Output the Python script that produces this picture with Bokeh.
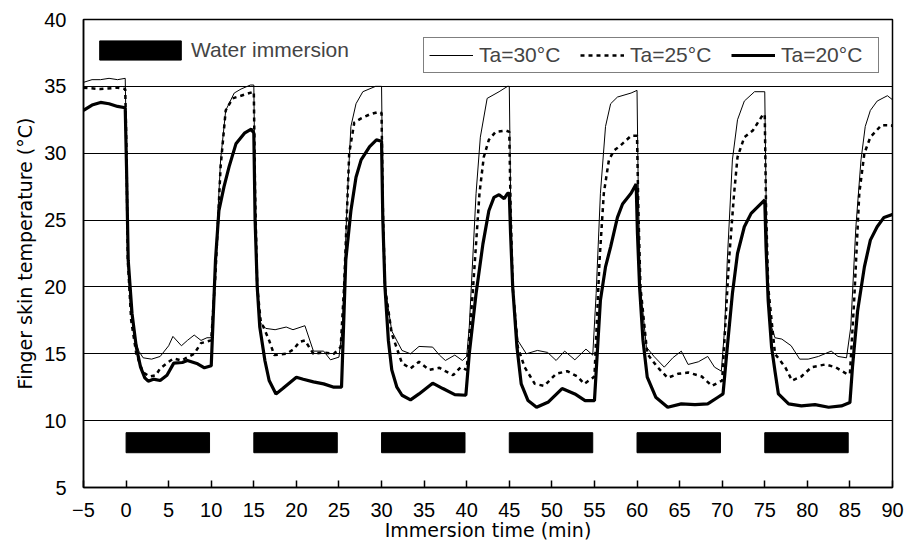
from bokeh.plotting import figure
from bokeh.models import Legend, LegendItem, FixedTicker
from bokeh.embed import file_html
from bokeh.resources import INLINE

# ---------------- data ----------------
t30 = [-5, -4, -3, -2, -1, -0.1, 0.05, 0.2, 0.5, 1.0, 1.5, 2.0, 3.0, 4.0, 5.0, 5.5, 6.5, 7.2, 8.0, 8.8, 9.5, 10.0,
       10.5, 11.1, 11.7, 12.7, 13.5, 14.6, 15.0,
       15.15, 15.4, 15.8, 16.4, 17.5, 18.8, 19.6, 21.0, 22.0, 23.2, 24.0, 25.0,
       25.4, 26.0, 26.4, 27.0, 27.8, 29.3, 30.0,
       30.15, 30.4, 31.2, 32.4, 33.4, 34.4, 36.0, 36.8, 37.5, 38.6, 39.5, 40.0,
       40.3, 41.1, 41.6, 42.4, 43.8, 44.8, 45.0,
       45.15, 45.4, 46.0, 47.0, 48.3, 49.5, 50.5, 51.5, 52.7, 54.0, 54.8,
       55.2, 55.7, 56.3, 56.9, 57.7, 59.3, 60.0,
       60.15, 60.4, 61.1, 62.0, 63.2, 64.2, 65.2, 66.0, 67.2, 68.3, 69.1, 69.9,
       70.3, 70.6, 71.2, 71.8, 72.6, 73.8, 74.8, 75.0,
       75.15, 75.4, 75.8, 76.2, 77.0, 78.1, 79.1, 80.1, 81.3, 82.8, 83.6, 84.6,
       85.1, 85.7, 86.3, 86.8, 87.4, 88.2, 89.4, 90.0]
v30 = [35.3, 35.5, 35.5, 35.6, 35.5, 35.6, 30.0, 22.0, 18.5, 16.2, 15.2, 14.7, 14.6, 14.8, 15.6, 16.3, 15.6, 16.0, 16.4, 16.0, 16.2, 16.2,
       22.0, 29.5, 33.2, 34.5, 34.8, 35.1, 35.1,
       27.0, 20.0, 17.3, 16.9, 16.8, 17.0, 16.8, 17.1, 15.2, 15.2, 14.55, 14.75,
       17.0, 27.0, 32.0, 33.7, 34.6, 35.0, 35.0,
       27.0, 20.0, 16.7, 15.25, 15.0, 15.55, 15.5, 14.9, 14.5, 14.9, 14.5, 14.8,
       17.0, 27.0, 31.2, 34.1, 34.6, 35.0, 35.0,
       27.0, 20.0, 16.0, 15.0, 15.25, 15.1, 14.5, 15.2, 14.55, 15.35, 14.9,
       19.5, 27.0, 32.0, 33.7, 34.2, 34.5, 34.7,
       27.0, 20.0, 15.5, 14.8, 14.0, 14.7, 15.2, 14.2, 14.4, 14.8, 14.0, 13.7,
       17.0, 22.0, 29.5, 32.5, 33.9, 34.6, 34.6, 34.6,
       27.0, 20.0, 17.0, 16.2, 16.1, 15.6, 14.6, 14.6, 14.8, 15.2, 14.8, 14.7,
       17.0, 24.5, 29.5, 32.0, 33.2, 33.9, 34.3, 34.0]

t25 = [-5, -3, -1, -0.1, 0.05, 0.2, 0.6, 1.2, 2.0, 2.8, 3.5, 4.0, 5.0, 5.6, 6.5, 8.0, 8.8, 10.0,
       10.5, 11.1, 11.7, 12.5, 13.5, 15.0,
       15.15, 15.4, 15.8, 16.8, 17.4, 18.8, 19.6, 20.4, 21.0, 22.0, 23.2, 24.4, 25.2,
       25.6, 26.2, 26.8, 27.6, 28.6, 29.7, 30.0,
       30.15, 30.4, 31.2, 32.4, 33.4, 34.4, 35.6, 36.8, 37.5, 38.4, 39.3, 40.0,
       40.7, 41.5, 42.0, 42.6, 43.4, 44.6, 45.0,
       45.15, 45.4, 46.0, 46.8, 48.0, 49.1, 50.5, 51.8, 53.0, 53.8, 54.8, 55.0,
       55.6, 56.1, 56.7, 57.3, 58.1, 59.3, 60.0,
       60.15, 60.4, 61.2, 62.4, 63.6, 64.8, 66.0, 67.6, 68.8, 69.7, 70.0,
       70.8, 71.4, 71.8, 72.6, 73.6, 74.8, 75.0,
       75.15, 75.4, 76.2, 77.4, 78.2, 79.3, 80.5, 82.1, 83.3, 84.6, 85.0,
       85.5, 86.1, 86.7, 87.4, 88.7, 89.9, 90.0]
v25 = [34.9, 34.8, 34.9, 34.8, 30.0, 22.0, 17.5, 15.0, 13.6, 13.3, 13.4, 13.9, 14.4, 14.65, 14.5, 15.0, 15.8, 16.0,
       21.0, 29.0, 33.2, 34.1, 34.3, 34.6,
       27.0, 20.0, 17.5, 16.0, 14.9, 15.0, 15.3, 15.9, 16.0, 15.0, 15.1, 15.0, 15.5,
       20.0, 30.0, 32.3, 32.6, 32.9, 33.1, 33.0,
       26.0, 20.0, 16.5, 14.3, 13.9, 14.4, 13.8, 13.95, 13.7, 13.4, 14.0, 13.8,
       19.5, 27.0, 29.7, 31.0, 31.6, 31.7, 31.6,
       26.0, 20.0, 15.5, 14.0, 12.75, 12.6, 13.5, 13.7, 13.3, 12.75, 13.2, 13.3,
       22.0, 27.0, 29.5, 30.2, 30.6, 31.3, 31.3,
       26.0, 20.0, 15.0, 14.0, 13.2, 13.5, 13.6, 13.3, 12.6, 12.9, 13.0,
       22.0, 27.0, 29.7, 31.2, 31.7, 32.9, 32.9,
       26.0, 20.0, 15.0, 14.0, 13.0, 13.3, 14.0, 14.2, 14.0, 13.5, 13.5,
       19.0, 27.0, 30.0, 31.2, 32.1, 32.1, 32.0]

t20 = [-5, -4, -3, -2, -1, -0.1, 0.05, 0.25, 0.7, 1.2, 1.7, 2.2, 2.6, 3.2, 4.0, 4.8, 5.6, 6.6, 7.2, 8.4, 9.2, 10.0,
       10.5, 10.9, 11.5, 12.1, 12.9, 13.9, 14.7, 15.0,
       15.15, 15.4, 15.7, 16.3, 16.8, 17.6, 18.4, 20.0, 20.8, 22.0, 23.2, 24.4, 25.3,
       25.8, 26.4, 27.0, 27.6, 28.6, 29.4, 30.0,
       30.15, 30.4, 30.8, 31.2, 31.8, 32.4, 33.4, 34.4, 36.0, 37.2, 38.6, 39.9,
       40.3, 41.1, 41.9, 42.6, 43.2, 43.8, 44.4, 44.8, 45.0,
       45.15, 45.4, 45.9, 46.4, 47.2, 48.2, 49.6, 51.2, 52.7, 53.9, 55.0,
       55.4, 55.7, 56.3, 56.9, 57.7, 58.3, 59.3, 59.9,
       60.05, 60.3, 60.7, 61.2, 62.2, 63.6, 65.2, 66.8, 68.3, 69.5, 70.1,
       70.6, 71.2, 71.8, 72.6, 73.4, 74.2, 75.0,
       75.15, 75.4, 75.8, 76.2, 76.6, 77.8, 79.3, 80.9, 82.5, 84.0, 85.0,
       85.3, 85.9, 86.7, 87.4, 88.2, 89.0, 89.9, 90.0]
v20 = [33.2, 33.6, 33.8, 33.7, 33.5, 33.4, 29.0, 22.0, 18.0, 15.5, 14.0, 13.2, 12.95, 13.1, 13.0, 13.4, 14.3, 14.35, 14.5, 14.25, 13.95, 14.1,
       22.0, 25.7, 27.5, 29.0, 30.7, 31.5, 31.8, 31.5,
       25.0, 20.0, 17.0, 14.5, 13.0, 12.0, 12.4, 13.25, 13.1, 12.9, 12.75, 12.5, 12.5,
       22.0, 25.7, 28.2, 29.5, 30.5, 31.0, 30.9,
       25.0, 20.0, 16.0, 13.8, 12.5, 11.9, 11.55, 12.0, 12.8, 12.4, 11.95, 11.9,
       15.0, 19.5, 23.2, 25.7, 26.7, 26.9, 26.6, 27.0, 27.0,
       24.0, 20.0, 15.5, 12.75, 11.5, 11.0, 11.4, 12.4, 12.0, 11.5, 11.5,
       15.8, 19.0, 21.5, 23.0, 25.2, 26.2, 27.0, 27.7,
       24.0, 20.0, 16.0, 13.25, 11.75, 11.0, 11.25, 11.2, 11.25, 11.75, 12.0,
       15.5, 19.5, 22.5, 24.5, 25.5, 26.0, 26.5,
       23.0, 19.0, 15.5, 13.7, 12.0, 11.25, 11.1, 11.2, 11.0, 11.1, 11.35,
       14.0, 18.2, 21.5, 23.5, 24.5, 25.2, 25.4, 25.4]

imm_start = [0, 15, 30, 45, 60, 75]
imm_end = [9.8, 24.8, 39.8, 54.8, 69.8, 84.8]
imm_bottom = [7.6] * 6
imm_top = [9.1] * 6

x_ticks = list(range(-5, 91, 5))
y_ticks = list(range(5, 41, 5))
grid_levels = [10, 15, 20, 25, 30, 35]

TICK_FONT = "Liberation Sans"
LABEL_FONT = "DejaVu Sans"

p = figure(width=905, height=544, x_range=(-5, 90), y_range=(5, 40),
           output_backend="svg", toolbar_location=None,
           min_border_left=83, min_border_right=13, min_border_top=19, min_border_bottom=57)

p.background_fill_color = "white"
p.border_fill_color = "white"
p.outline_line_color = "black"
p.outline_line_width = 1.5

# grid
p.xgrid.visible = False
p.ygrid.ticker = FixedTicker(ticks=grid_levels)
p.ygrid.grid_line_color = "black"
p.ygrid.grid_line_width = 1
p.ygrid.grid_line_alpha = 1

# axes
p.xaxis.ticker = FixedTicker(ticks=x_ticks)
p.yaxis.ticker = FixedTicker(ticks=y_ticks)
p.xaxis.major_label_overrides = {t: ("\u2212" + str(-t) if t < 0 else str(t)) for t in x_ticks}
for ax in (p.xaxis[0], p.yaxis[0]):
    ax.axis_line_color = "black"
    ax.axis_line_width = 1.5
    ax.minor_tick_line_color = None
    ax.major_label_text_font = TICK_FONT
    ax.major_label_text_font_size = "20px"
    ax.major_label_text_color = "black"
    ax.axis_label_text_font = LABEL_FONT
    ax.axis_label_text_font_size = "19px"
    ax.axis_label_text_font_style = "normal"
    ax.axis_label_text_color = "black"

p.xaxis.major_tick_in = 7
p.xaxis.major_tick_out = 0
p.xaxis.major_tick_line_color = "black"
p.xaxis.major_tick_line_width = 1.5
p.xaxis.major_label_standoff = 15
p.xaxis.axis_label = "Immersion time (min)"
p.xaxis.axis_label_standoff = -1

p.yaxis.major_tick_in = 0
p.yaxis.major_tick_out = 0
p.yaxis.major_label_standoff = 17
p.yaxis.axis_label = "Finger skin temperature (°C)"
p.yaxis.axis_label_standoff = 5

# immersion bars
r_imm = p.quad(left=imm_start, right=imm_end, bottom=imm_bottom, top=imm_top,
               fill_color="black", line_color="black")

# curves
r30 = p.line(t30, v30, line_color="black", line_width=1)
r25 = p.line(t25, v25, line_color="black", line_width=2.5, line_dash="4 4")
r20 = p.line(t20, v20, line_color="black", line_width=3.2)

leg = Legend(items=[LegendItem(label="Ta=30°C", renderers=[r30]),
                    LegendItem(label="Ta=25°C", renderers=[r25]),
                    LegendItem(label="Ta=20°C", renderers=[r20])],
             orientation="horizontal", location=(340, 414),
             glyph_width=44, glyph_height=20, label_standoff=6, label_width=92,
             label_height=20, spacing=9, padding=5, margin=0,
             border_line_color="black", border_line_width=1.2,
             background_fill_color="white", background_fill_alpha=1,
             label_text_font=TICK_FONT, label_text_font_size="21px")
p.add_layout(leg, "center")

leg2 = Legend(items=[LegendItem(label="Water immersion", renderers=[r_imm])],
              location=(6, 425), glyph_width=102, glyph_height=24, label_standoff=0,
              padding=0, margin=0, border_line_color=None, background_fill_alpha=0,
              label_text_font=TICK_FONT, label_text_font_size="21px")
p.add_layout(leg2, "center")

open("out.html", "w").write(file_html(p, INLINE))
